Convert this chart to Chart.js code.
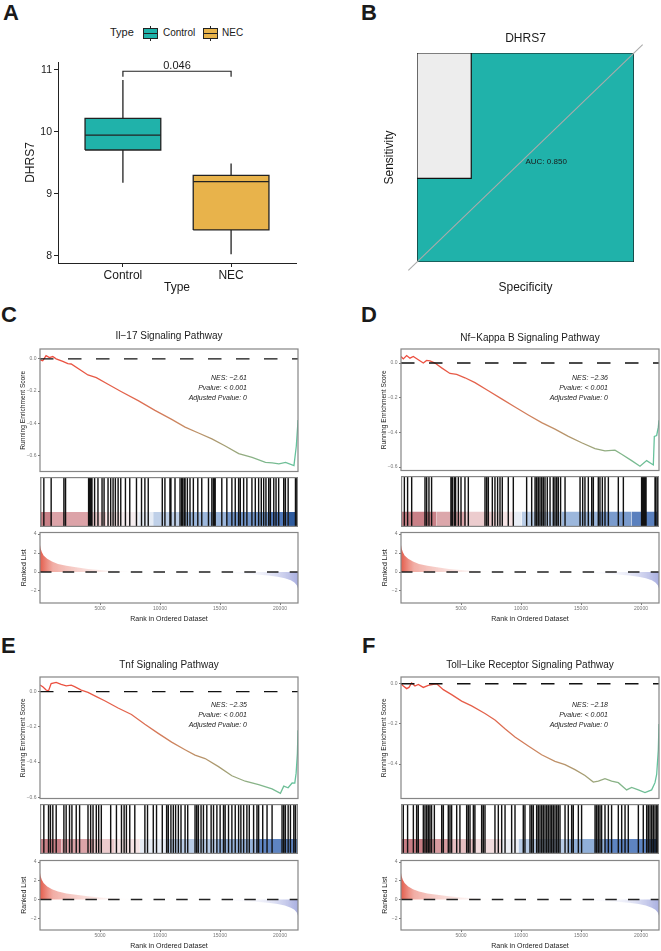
<!DOCTYPE html>
<html>
<head>
<meta charset="utf-8">
<script src="https://cdn.jsdelivr.net/npm/chart.js@4.4.1/dist/chart.umd.min.js"></script>
<style>
html, body { margin: 0; padding: 0; background: #fff; overflow: hidden; }
#fig { position: relative; width: 661px; height: 951px; overflow: hidden; font-family: "Liberation Sans", Arial, sans-serif; color: #1a1a1a; }
#fig canvas { position: absolute; }
.tag { position: absolute; font-weight: bold; font-size: 22px; line-height: 22px; }
.lg { position: absolute; white-space: nowrap; }
.key { position: absolute; width: 13px; height: 9px; border: 1px solid #222; }
.key i { position: absolute; left: 0; right: 0; top: 4px; height: 1px; background: #222; }
.key b { position: absolute; left: 6px; width: 1px; height: 2px; background: #222; }
</style>
</head>
<body>
<div id="fig">
  <div class="tag" style="left:3px;top:2px">A</div>
  <div class="tag" style="left:361px;top:2px">B</div>
  <div class="tag" style="left:1px;top:304px">C</div>
  <div class="tag" style="left:361px;top:304px">D</div>
  <div class="tag" style="left:1px;top:635px">E</div>
  <div class="tag" style="left:362px;top:635px">F</div>

  <div class="lg" style="left:110px;top:26px;font-size:11px;line-height:13px">Type</div>
  <div class="key" style="left:143px;top:27.5px;background:#20B2AA"><i></i><b style="top:-3px"></b><b style="bottom:-3px"></b></div>
  <div class="lg" style="left:163px;top:27px;font-size:10px;line-height:12px">Control</div>
  <div class="key" style="left:203px;top:27.5px;background:#E8B34B"><i></i><b style="top:-3px"></b><b style="bottom:-3px"></b></div>
  <div class="lg" style="left:222px;top:27px;font-size:10px;line-height:12px">NEC</div>
</div>
<script>
// ---------- данные: A (boxplot DHRS7)
const boxGroups = ['Control', 'NEC'];
const boxMin = [9.18, 8.03];
const boxQ1 = [9.71, 8.42];
const boxMedian = [9.95, 9.20];
const boxQ3 = [10.22, 9.30];
const boxMax = [10.84, 9.49];
const pValueText = '0.046';

// ---------- данные: B (ROC)
const rocSpecificity = [1, 1, 0.75, 0.75, 0];
const rocSensitivity = [0, 0.4, 0.4, 1, 1];
const aucText = 'AUC: 0.850';

// ---------- данные: GSEA
const X_MAX = 21500;
const rankTicks = [5000, 10000, 15000, 20000];
const rankListTicks = [4, 2, 0, -2];

const rankedX = [0, 50, 150, 300, 600, 1000, 1500, 2200, 3000, 4000, 5000, 6000, 7000, 8000, 9000, 10000, 11000, 12000, 13000, 14000, 15000, 16000, 17000, 18000, 19000, 19800, 20400, 20900, 21200, 21400, 21500];
const rankedY = [2.85, 2.5, 2.1, 1.75, 1.4, 1.1, 0.85, 0.65, 0.5, 0.33, 0.22, 0.14, 0.08, 0.04, 0.02, 0.005, -0.01, -0.02, -0.04, -0.06, -0.09, -0.13, -0.18, -0.25, -0.36, -0.5, -0.66, -0.88, -1.1, -1.4, -1.75];

// C: Il-17
const esRankC = [0, 226, 505, 785, 1064, 1343, 1901, 2320, 2599, 3995, 4693, 5670, 6787, 8182, 9578, 10974, 12090, 13208, 14324, 15440, 16558, 17674, 18790, 19349, 19907, 20465, 21163, 21360, 21470, 21500];
const esScoreC = [-0.006, -0.012, 0.02, 0.008, 0.014, 0.0, -0.016, -0.03, -0.032, -0.1, -0.117, -0.158, -0.204, -0.259, -0.32, -0.376, -0.424, -0.46, -0.497, -0.541, -0.588, -0.612, -0.642, -0.646, -0.652, -0.642, -0.662, -0.541, -0.42, -0.38];
const hitsC = [40, 320, 930, 1990, 2130, 4050, 4140, 4220, 4330, 4550, 4830, 5170, 5340, 5670, 5890, 6090, 6280, 6510, 6730, 7120, 7480, 8040, 8460, 8740, 9020, 10190, 10410, 10830, 10910, 11250, 11670, 11810, 11860, 12000, 12090, 12280, 12500, 12780, 13150, 13480, 14040, 14320, 14460, 14510, 14600, 15150, 15570, 15990, 16270, 16550, 16690, 16970, 17240, 17660, 17940, 18220, 18440, 18640, 18830, 19060, 19200, 19480, 19670, 19890, 20310, 20450, 20680, 21290, 21370, 21480];
const bandC = [0, 1070, 4000, 5530, 6780, 8180, 9430, 12080, 15430, 19060, 20730, 21500];

// D: Nf-Kappa B
const esRankD = [0, 192, 470, 747, 1025, 1442, 1859, 2136, 2414, 2831, 3386, 4081, 4637, 5331, 6164, 7276, 8387, 9498, 10609, 11720, 12832, 13943, 15054, 16165, 16999, 17832, 18388, 19221, 19916, 20471, 21027, 21110, 21305, 21443, 21500];
const esScoreD = [0.038, 0.024, 0.043, 0.028, 0.038, 0.019, 0.0, 0.015, 0.013, 0.0, -0.028, -0.06, -0.066, -0.085, -0.113, -0.16, -0.207, -0.254, -0.30, -0.344, -0.381, -0.423, -0.46, -0.494, -0.507, -0.503, -0.526, -0.563, -0.595, -0.563, -0.588, -0.423, -0.418, -0.37, -0.33];
const hitsD = [280, 550, 890, 2000, 2140, 2330, 2550, 4160, 4280, 4440, 4550, 4780, 5000, 5330, 5610, 7000, 7140, 7280, 7610, 7830, 8050, 8250, 8440, 8940, 9360, 10470, 10890, 11170, 11300, 11440, 11580, 11720, 11860, 12000, 12190, 12420, 12690, 12830, 12970, 13110, 13300, 13670, 14920, 15140, 15330, 15610, 15890, 16030, 16440, 16580, 16780, 17000, 17280, 18110, 18530, 20050, 20140, 20220, 20330, 20420, 21170, 21250, 21390];
const bandD = [0, 2970, 5470, 7830, 9360, 10050, 13390, 16440, 19220, 21500];

// E: Tnf
const esRankE = [0, 231, 510, 706, 929, 1347, 1765, 2184, 2602, 2881, 3439, 3997, 4694, 5391, 6507, 7622, 8738, 9853, 10969, 12085, 12920, 13758, 14874, 15989, 17105, 18220, 19336, 20035, 20312, 20675, 21010, 21233, 21344, 21450, 21500];
const esScoreE = [0.037, 0.028, 0.009, 0.004, 0.046, 0.052, 0.041, 0.033, 0.037, 0.028, 0.009, -0.004, -0.028, -0.052, -0.093, -0.13, -0.185, -0.237, -0.287, -0.33, -0.361, -0.38, -0.426, -0.478, -0.509, -0.528, -0.552, -0.578, -0.537, -0.546, -0.519, -0.52, -0.463, -0.352, -0.22];
const hitsE = [320, 710, 870, 1070, 1350, 1990, 2180, 2460, 2660, 3020, 3300, 4000, 4220, 4420, 4690, 4890, 5110, 5890, 6370, 6790, 7010, 7200, 7480, 7900, 8740, 8960, 9440, 9710, 10190, 10550, 10690, 10910, 11110, 11300, 11530, 11750, 12090, 12310, 12920, 13060, 13200, 13420, 13620, 13900, 14260, 14460, 14740, 15010, 15290, 15430, 15710, 15990, 16270, 16550, 16740, 16970, 17240, 17440, 17800, 18080, 18220, 18560, 18920, 19340, 20170, 20310, 20450, 20680, 20870, 21150, 21290, 21470];
const bandE = [0, 1770, 4560, 6230, 8320, 10550, 14600, 17940, 21500];

// F: Toll-Like Receptor
const esRankF = [0, 192, 470, 664, 886, 1164, 1442, 1859, 2275, 2692, 2970, 3525, 4220, 5053, 5887, 6998, 7831, 8665, 9498, 10609, 11720, 12832, 13665, 14498, 15332, 16026, 16443, 16999, 17554, 18110, 18804, 19221, 19777, 20332, 20888, 21166, 21305, 21443, 21500];
const esScoreF = [0, -0.011, -0.024, -0.018, 0.004, -0.011, -0.003, -0.018, -0.008, -0.003, 0, -0.029, -0.054, -0.086, -0.11, -0.148, -0.18, -0.224, -0.265, -0.31, -0.354, -0.387, -0.403, -0.428, -0.457, -0.49, -0.485, -0.473, -0.485, -0.493, -0.529, -0.517, -0.529, -0.542, -0.529, -0.493, -0.452, -0.33, -0.2];
const hitsF = [30, 190, 550, 1030, 1300, 1440, 1860, 2000, 2140, 2280, 2410, 2550, 2780, 3390, 3530, 3940, 4080, 4220, 4640, 4910, 5470, 5610, 5750, 6030, 6160, 6720, 6860, 7000, 7830, 8110, 8390, 8670, 9220, 9500, 10190, 10330, 10750, 10890, 11030, 11300, 11440, 11580, 11720, 11860, 12000, 12140, 12280, 12420, 12550, 12690, 12830, 12970, 13110, 13250, 13670, 13940, 14220, 14360, 14780, 15050, 16170, 16300, 16440, 16580, 16720, 17000, 17280, 17550, 18110, 18390, 18670, 18940, 19780, 20190, 20470, 20610, 20750, 20890, 21030, 21170, 21310, 21390];
const bandF = [0, 2550, 3940, 6160, 8390, 9780, 13940, 17000, 20890, 21500];

// ---------- стили
const FONT = '"Liberation Sans", Arial, sans-serif';
const TEAL = '#20B2AA';
const GOLD = '#E8B34B';
const INK = '#1a1a1a';
const bandColorsC = ['#C98087', '#DCA3A8', '#EACACC', '#F4E1E2', '#F6EEF0', '#E6ECF5', '#BFD0E8', '#9CB7DC', '#7396CA', '#5078B9', '#2E5B9E'];
const bandColorsD = ['#C98087', '#DCA7AB', '#ECCCCE', '#F5E3E4', '#E8EDF5', '#BACDE7', '#9CB7DC', '#7A9BCD', '#5A80BE'];
const bandColorsE = ['#C98087', '#DBA3A8', '#ECCBCD', '#F6E4E5', '#E6ECF5', '#B9CCE6', '#97B3DA', '#5E84C1'];
const bandColorsF = ['#C77E85', '#D69A9F', '#E6BFC2', '#F2DCDE', '#EDEFF5', '#B9CCE6', '#90AFD8', '#5E84C1', '#2D5A9D'];

Chart.defaults.font.family = FONT;

// рамка вокруг области графика
Chart.register({
    id: 'frame',
    afterDatasetsDraw(chart, args, o) {
        if (!o || !o.color) return;
        const a = chart.chartArea, c = chart.ctx, h = o.inset ? o.width / 2 : 0;
        c.save();
        c.strokeStyle = o.color;
        c.lineWidth = o.width;
        c.strokeRect(a.left + h, a.top + h, a.right - a.left - 2 * h, a.bottom - a.top - 2 * h);
        c.restore();
    }
});

// подписи в координатах данных
Chart.register({
    id: 'notes',
    afterDatasetsDraw(chart, args, o) {
        if (!o || !o.items) return;
        const c = chart.ctx, xs = chart.scales.x, ys = chart.scales.y;
        for (let i = 0; i < o.items.length; i++) {
            const it = o.items[i];
            c.save();
            c.font = it.font;
            c.fillStyle = it.color || INK;
            c.textAlign = it.align || 'center';
            c.textBaseline = 'middle';
            c.fillText(it.text, xs.getPixelForValue(it.x) + (it.dx || 0), ys.getPixelForValue(it.y) + (it.dy || 0));
            c.restore();
        }
    }
});

function makeCanvas(left, top, w, h) {
    const c = document.createElement('canvas');
    c.width = w; c.height = h;
    c.style.left = left + 'px';
    c.style.top = top + 'px';
    c.style.width = w + 'px';
    c.style.height = h + 'px';
    document.getElementById('fig').appendChild(c);
    return c;
}

const common = {
    responsive: false,
    animation: false,
    devicePixelRatio: 1,
    events: [],
    elements: { point: { radius: 0 }, line: { tension: 0 } }
};
const noLegend = { legend: { display: false }, tooltip: { enabled: false } };
const minus = s => String(s).replace('-', '\u2212');

// ================= A
(function () {
    const w = 0.35;
    const sets = [];
    boxGroups.forEach((g, i) => {
        const c = i + 1;
        sets.push({ data: [{ x: c - w, y: boxMedian[i] }, { x: c + w, y: boxMedian[i] }], showLine: true, borderColor: '#222', borderWidth: 1.3 });
    });
    boxGroups.forEach((g, i) => {
        const c = i + 1;
        sets.push({
            label: g,
            data: [{ x: c - w, y: boxQ1[i] }, { x: c + w, y: boxQ1[i] }, { x: c + w, y: boxQ3[i] }, { x: c - w, y: boxQ3[i] }, { x: c - w, y: boxQ1[i] }],
            showLine: true, fill: 'shape', backgroundColor: i === 0 ? TEAL : GOLD, borderColor: '#222', borderWidth: 1.3
        });
        sets.push({
            data: [{ x: c, y: boxQ3[i] }, { x: c, y: boxMax[i] }, { x: c, y: null }, { x: c, y: boxQ1[i] }, { x: c, y: boxMin[i] }],
            showLine: true, borderColor: '#222', borderWidth: 1.3
        });
    });
    // скобка значимости
    sets.push({ data: [{ x: 1, y: 10.89 }, { x: 1, y: 10.98 }, { x: 2, y: 10.98 }, { x: 2, y: 10.89 }], showLine: true, borderColor: '#222', borderWidth: 1.2, clip: false });

    new Chart(makeCanvas(0, 40, 330, 260), {
        type: 'scatter',
        data: { datasets: sets },
        options: {
            ...common,
            layout: { padding: { left: 0, top: 22, right: 34, bottom: 0 } },
            plugins: {
                ...noLegend,
                notes: { items: [{ x: 1.5, y: 10.98, dy: -5.5, text: pValueText, font: '11px ' + FONT }] }
            },
            scales: {
                x: {
                    type: 'linear', min: 0.4, max: 2.6,
                    afterBuildTicks: s => { s.ticks = boxGroups.map((g, i) => ({ value: i + 1 })); },
                    afterFit: s => { s.height = 37; },
                    ticks: { callback: v => boxGroups[v - 1], font: { size: 12 }, color: INK, padding: 1 },
                    grid: { drawOnChartArea: false, tickLength: 4, color: '#222' },
                    border: { color: '#222', width: 1 },
                    title: { display: true, text: 'Type', font: { size: 12 }, color: INK, padding: { top: 0, bottom: 5 } }
                },
                y: {
                    min: 7.887, max: 11.129,
                    afterBuildTicks: s => { s.ticks = [8, 9, 10, 11].map(v => ({ value: v })); },
                    afterFit: s => { s.width = 58; },
                    ticks: { font: { size: 10.5 }, color: INK, padding: 2 },
                    grid: { drawOnChartArea: false, tickLength: 4, color: '#222' },
                    border: { color: '#222', width: 1 },
                    title: { display: true, text: 'DHRS7', font: { size: 12 }, color: INK, padding: { top: 23 } }
                }
            }
        }
    });
})();

// ================= B
(function () {
    const curve = rocSpecificity.map((s, i) => ({ x: s, y: rocSensitivity[i] }));
    const sets = [
        { data: [{ x: 1.04, y: -0.04 }, { x: -0.04, y: 1.04 }], showLine: true, borderColor: '#ABABAB', borderWidth: 1.1, clip: false },
        { data: curve.concat([{ x: 0, y: 0 }, { x: 1, y: 0 }]), showLine: true, fill: 'shape', backgroundColor: TEAL, borderColor: '#111', borderWidth: 1.2 },
        { data: [{ x: 1, y: 0 }, { x: 1, y: 1 }, { x: 0, y: 1 }, { x: 0, y: 0 }, { x: 1, y: 0 }], showLine: true, fill: 'shape', backgroundColor: '#EDEDED', borderColor: '#111', borderWidth: 1.2 }
    ];
    new Chart(makeCanvas(330, 0, 331, 300), {
        type: 'scatter',
        data: { datasets: sets },
        options: {
            ...common,
            layout: { padding: { left: 0, top: 0, right: 27, bottom: 0 } },
            plugins: {
                ...noLegend,
                title: { display: true, text: 'DHRS7', fullSize: false, font: { size: 12, weight: 'normal' }, color: INK, padding: { top: 31, bottom: 7.6 } },
                notes: { items: [{ x: 0.5, y: 0.48, text: aucText, font: '8px ' + FONT, align: 'left' }] }
            },
            scales: {
                x: {
                    type: 'linear', min: 0, max: 1, reverse: true,
                    afterFit: s => { s.height = 38; },
                    ticks: { display: false }, grid: { display: false }, border: { display: false },
                    title: { display: true, text: 'Specificity', font: { size: 12 }, color: INK, padding: { top: 0, bottom: 5.3 } }
                },
                y: {
                    min: 0, max: 1,
                    afterFit: s => { s.width = 87; },
                    ticks: { display: false }, grid: { display: false }, border: { display: false },
                    title: { display: true, text: 'Sensitivity', font: { size: 12 }, color: INK, padding: { top: 52 } }
                }
            }
        }
    });
})();

// ================= GSEA
function esGradient(ctx) {
    const a = ctx.chart.chartArea;
    if (!a) return '#EE4A3C';
    const g = ctx.chart.ctx.createLinearGradient(a.left, 0, a.right, 0);
    g.addColorStop(0, '#EE4A3C');
    g.addColorStop(0.35, '#E2664E');
    g.addColorStop(0.55, '#C98A62');
    g.addColorStop(0.7, '#A89C72');
    g.addColorStop(0.85, '#84B68A');
    g.addColorStop(1, '#62C39E');
    return g;
}
function rankGradient(ctx) {
    const a = ctx.chart.chartArea;
    if (!a) return 'rgba(226,80,64,0.5)';
    const g = ctx.chart.ctx.createLinearGradient(a.left, 0, a.right, 0);
    g.addColorStop(0, 'rgba(226,84,66,0.95)');
    g.addColorStop(0.05, 'rgba(232,118,104,0.6)');
    g.addColorStop(0.22, 'rgba(244,196,190,0.4)');
    g.addColorStop(0.38, 'rgba(255,255,255,0)');
    g.addColorStop(0.65, 'rgba(255,255,255,0)');
    g.addColorStop(0.85, 'rgba(215,218,242,0.35)');
    g.addColorStop(1, 'rgba(140,148,214,0.75)');
    return g;
}

function gsea(p) {
    const W = p.R - p.L;
    const axisY = {
        afterFit: s => { s.width = 40; },
        ticks: { font: { size: 5 }, color: '#777', padding: 1.5 },
        grid: { drawOnChartArea: false, tickLength: 2, color: '#777' },
        border: { display: false }
    };
    const frame = { color: '#858585', width: 1.2 };

    // верх: running enrichment score
    const topCv = p.titleY - 16;
    new Chart(makeCanvas(p.L - 40, topCv, W + 42, p.top[1] + 2 - topCv), {
        type: 'scatter',
        data: {
            datasets: [
                { data: [{ x: 0, y: 0 }, { x: X_MAX, y: 0 }], showLine: true, borderColor: '#111', borderWidth: 1.4, borderDash: [13.5, 14.5] },
                { data: p.esX.map((x, i) => ({ x: x, y: p.esY[i] })), showLine: true, borderColor: esGradient, borderWidth: 1.3 }
            ]
        },
        options: {
            ...common,
            layout: { padding: { left: 0, top: 0, right: 2, bottom: 2 } },
            plugins: {
                ...noLegend,
                title: { display: true, text: p.title, fullSize: false, font: { size: 10, weight: 'normal' }, color: INK, padding: { top: 10, bottom: p.top[0] - topCv - 22 } },
                frame: frame,
                notes: {
                    items: p.notes.map((t, i) => ({ x: 17250, y: p.noteY, dy: i * 10, text: t, font: 'italic 7px ' + FONT, align: 'right', color: '#222' }))
                }
            },
            scales: {
                x: { type: 'linear', min: 0, max: X_MAX, display: false },
                y: {
                    ...axisY, min: p.esMin, max: p.esMax,
                    afterBuildTicks: s => { s.ticks = p.esTicks.map(v => ({ value: v })); },
                    ticks: { ...axisY.ticks, callback: v => minus(v.toFixed(1)) },
                    title: { display: true, text: 'Running Enrichment Score', font: { size: 6.6 }, color: '#222', padding: { top: 19 } }
                }
            }
        }
    });

    // середина: гены набора + цветовая полоса
    const hitData = [];
    p.hits.forEach(h => { hitData.push({ x: h, y: 0 }, { x: h, y: 1 }, { x: h, y: null }); });
    const sets = [{ data: hitData, showLine: true, borderColor: '#111', borderWidth: 1.4 }];
    for (let i = 0; i < p.band.length - 1; i++) {
        sets.push({ data: [{ x: p.band[i], y: 0.3 }, { x: p.band[i + 1], y: 0.3 }], showLine: true, fill: 'start', backgroundColor: p.bandColors[i], borderWidth: 0 });
    }
    new Chart(makeCanvas(p.L, p.mid[0], W, p.mid[1] - p.mid[0]), {
        type: 'scatter',
        data: { datasets: sets },
        options: {
            ...common,
            layout: { padding: 0 },
            plugins: { ...noLegend, frame: { ...frame, inset: true } },
            scales: {
                x: { type: 'linear', min: 0, max: X_MAX, display: false },
                y: { min: 0, max: 1, display: false }
            }
        }
    });

    // низ: ranked list
    new Chart(makeCanvas(p.L - 40, p.bot[0], W + 42, p.bot[1] - p.bot[0] + 24), {
        type: 'scatter',
        data: {
            datasets: [
                { data: [{ x: 0, y: 0 }, { x: X_MAX, y: 0 }], showLine: true, borderColor: '#222', borderWidth: 1.4, borderDash: [11.5, 11.2] },
                { data: rankedX.map((x, i) => ({ x: x, y: rankedY[i] })), showLine: true, fill: 'origin', backgroundColor: rankGradient, borderWidth: 0 }
            ]
        },
        options: {
            ...common,
            layout: { padding: { left: 0, top: 0, right: 2, bottom: 0 } },
            plugins: { ...noLegend, frame: frame },
            scales: {
                x: {
                    type: 'linear', min: 0, max: X_MAX,
                    afterBuildTicks: s => { s.ticks = rankTicks.map(v => ({ value: v })); },
                    afterFit: s => { s.height = 24; },
                    ticks: { font: { size: 5 }, color: '#777', padding: 1, callback: v => String(v) },
                    grid: { drawOnChartArea: false, tickLength: 2, color: '#777' },
                    border: { display: false },
                    title: { display: true, text: 'Rank in Ordered Dataset', font: { size: 7 }, color: '#222', padding: { top: 0, bottom: 3.8 } }
                },
                y: {
                    ...axisY, min: -3.27, max: 4.17,
                    afterBuildTicks: s => { s.ticks = rankListTicks.map(v => ({ value: v })); },
                    ticks: { ...axisY.ticks, callback: v => minus(v) },
                    title: { display: true, text: 'Ranked List', font: { size: 7 }, color: '#222', padding: { top: 19.5 } }
                }
            }
        }
    });
}

gsea({
    title: 'Il\u221217 Signaling Pathway', notes: ['NES: \u22122.61', 'Pvalue: < 0.001', 'Adjusted Pvalue: 0'], noteY: -0.121,
    L: 40, R: 298, titleY: 336, top: [349, 474], mid: [477, 527], bot: [528, 603],
    esX: esRankC, esY: esScoreC, esMin: -0.699, esMax: 0.061, esTicks: [0, -0.2, -0.4, -0.6],
    hits: hitsC, band: bandC, bandColors: bandColorsC
});
gsea({
    title: 'Nf\u2212Kappa B Signaling Pathway', notes: ['NES: \u22122.36', 'Pvalue: < 0.001', 'Adjusted Pvalue: 0'], noteY: -0.088,
    L: 401, R: 659, titleY: 338, top: [349, 473], mid: [476, 527], bot: [528, 603],
    esX: esRankD, esY: esScoreD, esMin: -0.62, esMax: 0.081, esTicks: [0, -0.2, -0.4, -0.6],
    hits: hitsD, band: bandD, bandColors: bandColorsD
});
gsea({
    title: 'Tnf Signaling Pathway', notes: ['NES: \u22122.35', 'Pvalue: < 0.001', 'Adjusted Pvalue: 0'], noteY: -0.078,
    L: 40, R: 298, titleY: 665, top: [677, 801], mid: [804, 854], bot: [856, 930],
    esX: esRankE, esY: esScoreE, esMin: -0.607, esMax: 0.083, esTicks: [0, -0.2, -0.4, -0.6],
    hits: hitsE, band: bandE, bandColors: bandColorsE
});
gsea({
    title: 'Toll\u2212Like Receptor Signaling Pathway', notes: ['NES: \u22122.18', 'Pvalue: < 0.001', 'Adjusted Pvalue: 0'], noteY: -0.107,
    L: 401, R: 659, titleY: 665, top: [677, 801], mid: [804, 854], bot: [856, 930],
    esX: esRankF, esY: esScoreF, esMin: -0.572, esMax: 0.034, esTicks: [0, -0.2, -0.4],
    hits: hitsF, band: bandF, bandColors: bandColorsF
});
</script>
</body>
</html>
